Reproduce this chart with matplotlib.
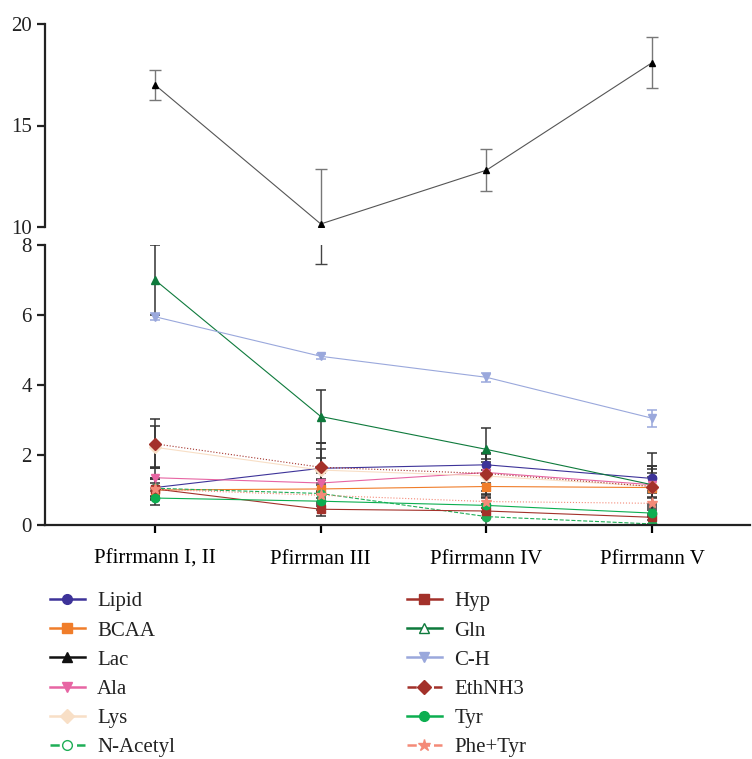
import numpy as np
import matplotlib
matplotlib.use("Agg")
import matplotlib.pyplot as plt
from matplotlib.lines import Line2D

plt.rcParams['font.family'] = ['Liberation Serif', 'DejaVu Serif']

# categories
groups = ["Pfirrmann I, II", "Pfirrman III", "Pfirrmann IV", "Pfirrmann V"]

# means per metabolite
lipid = [1.07, 1.62, 1.72, 1.33]
bcaa = [1.0, 1.03, 1.1, 1.07]
lac = [17.0, 10.15, 12.8, 18.1]
ala = [1.35, 1.2, 1.5, 1.15]
lys = [2.22, 1.57, 1.4, 1.1]
nacetyl = [1.05, 0.9, 0.24, 0.03]
hyp = [1.03, 0.45, 0.4, 0.22]
gln = [7.0, 3.1, 2.16, 1.15]
ch = [5.95, 4.82, 4.22, 3.05]
ethnh3 = [2.32, 1.65, 1.47, 1.1]
tyr = [0.77, 0.68, 0.56, 0.34]
phetyr = [1.02, 0.85, 0.67, 0.62]

# error bars
lipid_err = [0.25, 0.3, 0.3, 0.35]
bcaa_err = [0.2, 0.25, 0.3, 0.3]
lac_err = [0.75, 2.7, 1.05, 1.25]
ala_err = [0.3, 0.3, 0.3, 0.35]
lys_err = [0.6, 0.6, 0.5, 0.5]
nacetyl_err = [0.3, 0.3, 0.25, 0.2]
hyp_err = [0.3, 0.2, 0.2, 0.2]
gln_err = [1.0, 0.75, 0.6, 0.9]
ch_err = [0.1, 0.08, 0.12, 0.25]
ethnh3_err = [0.7, 0.7, 0.6, 0.6]
tyr_err = [0.2, 0.25, 0.2, 0.2]
phetyr_err = [0.3, 0.3, 0.3, 0.3]

# name, values, err, color, marker, linestyle, marker face
series = [
    ("Lipid", lipid, lipid_err, "#3d3399", "o", "-", None),
    ("BCAA", bcaa, bcaa_err, "#f07d2a", "s", "-", None),
    ("Lac", lac, lac_err, "#111111", "^", "-", None),
    ("Ala", ala, ala_err, "#e765a3", "v", "-", None),
    ("Lys", lys, lys_err, "#f8dfc6", "D", "-", None),
    ("N-Acetyl", nacetyl, nacetyl_err, "#1fae57", "o", "--", "none"),
    ("Hyp", hyp, hyp_err, "#a3312a", "s", "-", None),
    ("Gln", gln, gln_err, "#0e7a3c", "^", "-", "none"),
    ("C-H", ch, ch_err, "#9aa8dc", "v", "-", None),
    ("EthNH3", ethnh3, ethnh3_err, "#a3312a", "D", ":", None),
    ("Tyr", tyr, tyr_err, "#0cae50", "o", "-", None),
    ("Phe+Tyr", phetyr, phetyr_err, "#f48a78", "*", ":", None),
]

x = np.arange(len(groups))

fig = plt.figure(figsize=(7.52, 7.59), dpi=100)
L, R = 45 / 752, 750 / 752
ax_top = fig.add_axes([L, 1 - 227 / 759, R - L, (227 - 24) / 759])
ax_bot = fig.add_axes([L, 1 - 525 / 759, R - L, (525 - 245) / 759])

for name, vals, err, c, m, ls, mfc in series:
    if name == "Lac":
        ax_top.errorbar(x, vals, yerr=err, color="#555555", lw=0.8, marker=m, ms=5,
                        mfc="black", mec="black", ecolor="#777777", elinewidth=1.0,
                        capsize=4, capthick=1.0)
        ax_bot.errorbar(x, vals, yerr=err, color="#555555", lw=0.8, marker=m, ms=5,
                        mfc="black", mec="black", ecolor="#444444", elinewidth=1.0,
                        capsize=4, capthick=1.0)
        continue
    ecol = c if name == "C-H" else "#333333"
    ax_bot.errorbar(x, vals, yerr=err, color=c, lw=0.8, ls=ls, marker=m,
                    ms=6 if m != "*" else 8,
                    mfc=c, mec=c, ecolor=ecol, elinewidth=1.1, capsize=3.5, capthick=1.1)

xlim = (-0.664, 3.59)
for ax in (ax_top, ax_bot):
    ax.set_xlim(*xlim)
    ax.spines["top"].set_visible(False)
    ax.spines["right"].set_visible(False)
    for s in ax.spines.values():
        s.set_linewidth(1.6)
        s.set_color("#222222")
    ax.tick_params(axis="y", direction="out", length=6, width=1.6, labelsize=15, colors="#222222")

ax_top.set_ylim(10, 20)
ax_top.set_yticks([10, 15, 20])
ax_top.spines["bottom"].set_visible(False)
ax_top.set_xticks([])

ax_bot.set_ylim(0, 8)
ax_bot.set_yticks([0, 2, 4, 6, 8])
ax_bot.set_xticks(x)
ax_bot.set_xticklabels(groups)
ax_bot.tick_params(axis="x", direction="out", length=6, width=1.6, labelsize=15, pad=12)

# legend, two columns
handles = []
for name, vals, err, c, m, ls, mfc in series:
    face = "white" if mfc == "none" else c
    hls = "--" if ls != "-" else "-"
    handles.append(Line2D([], [], color=c, lw=1.8, ls=hls, marker=m,
                          ms=7 if m != "*" else 9, mfc=face, mec=c, label=name))

leg_kw = dict(frameon=False, fontsize=15, handlelength=1.7, handletextpad=0.58,
              labelspacing=0.46, loc="upper left")
leg1 = fig.legend(handles=handles[:6], bbox_to_anchor=(31 / 752, 1 - 573 / 759), **leg_kw)
leg2 = fig.legend(handles=handles[6:], bbox_to_anchor=(388 / 752, 1 - 573 / 759), **leg_kw)
for leg in (leg1, leg2):
    for t in leg.get_texts():
        t.set_color("#222222")

fig.savefig("out.png", dpi=100)
